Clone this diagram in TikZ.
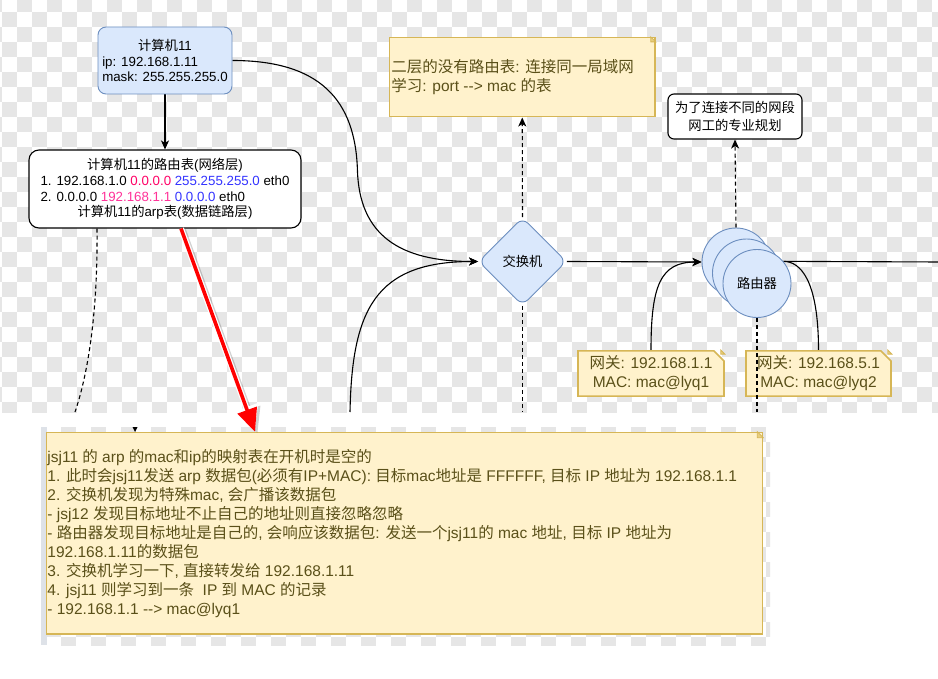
\documentclass[tikz,border=0pt]{standalone}
\usepackage{fontspec}
\setmainfont{Liberation Sans}
\newfontfamily\latfont{Liberation Sans}
\newfontfamily\cjkfont{Noto Sans CJK SC}
\usetikzlibrary{arrows.meta,shapes.geometric,shapes.misc}

% ideographs are set in the CJK family, everything else in Liberation Sans
\XeTeXinterchartokenstate=1
\newXeTeXintercharclass\hanclass
\newcount\glyphcode
\glyphcode="4E00
\loop
  \XeTeXcharclass\glyphcode=\hanclass
  \advance\glyphcode by 1
\ifnum\glyphcode<"A000 \repeat
\glyphcode=33
\loop
  \XeTeXcharclass\glyphcode=0
  \advance\glyphcode by 1
\ifnum\glyphcode<127 \repeat
\XeTeXinterchartoks 0 \hanclass = {\cjkfont}
\XeTeXinterchartoks 4095 \hanclass = {\cjkfont}
\XeTeXinterchartoks \hanclass 0 = {\latfont}
\XeTeXinterchartoks \hanclass 4095 = {\latfont}

\definecolor{boardgray}{RGB}{230,230,230}
\definecolor{stripgray}{RGB}{222,226,232}
\definecolor{blueFill}{HTML}{DAE8FC}
\definecolor{blueLine}{HTML}{6C8EBF}
\definecolor{noteFill}{HTML}{FFF2CC}
\definecolor{noteLine}{HTML}{D6B656}
\definecolor{noteFold}{HTML}{E8CF80}
\definecolor{noteText}{RGB}{90,80,25}
\definecolor{ipPink}{HTML}{FF0066}
\definecolor{gwPink}{HTML}{FF3399}
\definecolor{maskBlue}{HTML}{3333FF}

\pgfdeclarelayer{board}
\pgfdeclarelayer{wires}
\pgfdeclarelayer{front}
\pgfsetlayers{board,wires,main,front}

\newsavebox\maskrow
\newsavebox\routerow

% dog-ear of a note: #1 node name, #2 fold size
\newcommand\foldcorner[2]{%
  \filldraw[draw=noteLine, fill=noteFold, line width=0.8pt]
    (#1.north -| #1.east) ++(-#2,0) -- ++(0,#2) -- ++(#2,0) -- cycle;}

\begin{document}
\sbox\maskrow{\fontsize{13.3}{15.7}\selectfont mask: 255.255.255.0}%
\sbox\routerow{\fontsize{13.3}{15.7}\selectfont 1. 192.168.1.0 \textcolor{ipPink}{0.0.0.0} \textcolor{maskBlue}{255.255.255.0} eth0}%
\begin{tikzpicture}[x=1pt,y=-1pt,
  lbl/.style={font=\fontsize{13.3}{15.7}\selectfont, inner sep=0pt, align=center},
  bluebox/.style={draw=blueLine, fill=blueFill, line width=0.9pt},
  blackbox/.style={draw=black, fill=white, line width=1.1pt},
  notebox/.style={chamfered rectangle, chamfered rectangle corners=north east,
    chamfered rectangle xsep=5pt, chamfered rectangle ysep=5pt,
    draw=noteLine, fill=noteFill, line width=1.6pt, inner sep=0pt},
  notetext/.style={text=noteText, font=\fontsize{15.5}{19}\selectfont, inner sep=0pt},
  wire/.style={draw=black, line width=1.1pt},
  dashwire/.style={wire, dash pattern=on 4pt off 3pt},
  endtip/.style={-{Stealth[length=9pt,width=8pt,inset=2.5pt]}}]
\useasboundingbox (0,0) rectangle (938,679);

% canvas: checkerboard backdrop
\begin{pgfonlayer}{board}
  \fill[white] (0,0) rectangle (938,679);
  \begin{scope}
    \clip (0,0) rectangle (938,412);
    \foreach \j in {0,...,27}{
      \pgfmathsetmacro\xo{17-15*mod(\j,2)}
      \foreach \k in {-1,...,31}
        \fill[boardgray] (\xo+30*\k,-3+15*\j) rectangle ++(15,15);
    }
  \end{scope}
  \begin{scope}
    \clip (46,427) rectangle (770,645);
    \foreach \j in {0,...,14}{
      \pgfmathsetmacro\xo{61-15*mod(\j,2)}
      \foreach \k in {-1,...,25}
        \fill[boardgray] (\xo+30*\k,427+15*\j) rectangle ++(15,15);
    }
  \end{scope}
  \fill[stripgray] (41,427) rectangle (46.5,645);
\end{pgfonlayer}

% host and its tables
\node[bluebox, rounded corners=8pt, minimum width=134pt, minimum height=67pt, lbl] (pc) at (165,60.5)
  {计算机11\\\makebox[\wd\maskrow][l]{ip: 192.168.1.11}\\\usebox\maskrow};
\node[blackbox, rounded corners=10pt, minimum width=272pt, minimum height=78pt, lbl] (rt) at (165,189)
  {计算机11的路由表(网络层)\\\usebox\routerow\\\makebox[\wd\routerow][l]{2. 0.0.0.0 \textcolor{gwPink}{192.168.1.1} \textcolor{maskBlue}{0.0.0.0} eth0}\\计算机11的arp表(数据链路层)};

% switch and its note
\node[bluebox, diamond, rounded corners=8pt, minimum width=88pt, minimum height=88pt, lbl] (sw) at (522.5,261.5) {交换机};
\node[notebox, minimum width=265.5pt, minimum height=79pt] (lay2) at (522.25,77.2) {};
\foldcorner{lay2}{5}
\node[notetext, anchor=west, align=left] (lay2txt) at ([xshift=2.5pt]lay2.west)
  {二层的没有路由表: 连接同一局域网\\学习: port -\kern0pt-> mac 的表};

% router stack
\node[blackbox, rounded corners=6pt, minimum width=134pt, minimum height=45pt, lbl, font=\fontsize{13.3}{17.5}\selectfont] (goal) at (735,116.5)
  {为了连接不同的网段\\网工的专业规划};
\node[bluebox, circle, minimum size=68pt, inner sep=0pt] (r1) at (736,262) {};
\node[bluebox, circle, minimum size=68pt, inner sep=0pt] (r2) at (746.5,273) {};
\node[bluebox, circle, minimum size=68pt, lbl] (r3) at (757,283.5) {路由器};

% gateway notes
\node[notebox, minimum width=146pt, minimum height=45pt, notetext, align=center] (gw1) at (651,373.5)
  {网关: 192.168.1.1\\MAC: mac@lyq1};
\foldcorner{gw1}{4}
\node[notebox, minimum width=145pt, minimum height=45pt, notetext, align=center] (gw2) at (818.5,373.5)
  {网关: 192.168.5.1\\MAC: mac@lyq2};
\foldcorner{gw2}{4}

% ARP walkthrough
\node[notebox, minimum width=716pt, minimum height=201.5pt] (arp) at (404.5,533.25) {};
\foldcorner{arp}{6}
\node[notetext, anchor=west, align=left] (arptxt) at ([xshift=1.5pt]arp.west)
  {jsj11 的 arp 的mac和ip的映射表在开机时是空的\\
   1. 此时会jsj11发送 arp 数据包(必须有IP+MAC): 目标mac地址是 FFFFFF, 目标 IP 地址为 192.168.1.1\\
   2. 交换机发现为特殊mac, 会广播该数据包\\
   - jsj12 发现目标地址不止自己的地址则直接忽略忽略\\
   - 路由器发现目标地址是自己的, 会响应该数据包: 发送一个jsj11的 mac 地址, 目标 IP 地址为\\
   192.168.1.11的数据包\\
   3. 交换机学习一下, 直接转发给 192.168.1.11\\
   4. jsj11 则学习到一条 \ IP 到 MAC 的记录\\
   - 192.168.1.1 -\kern0pt-> mac@lyq1};

% connectors
\coordinate (swfeed) at (350,412);
\coordinate (swdown) at (522.5,412);
\coordinate (wanout) at (940,262);
\coordinate (arpdown) at (75,412);
\coordinate (routerdown) at (757,412);
\begin{pgfonlayer}{wires}
  \draw[wire, endtip] (pc) -- (rt);
  \draw[wire, endtip] (pc.east) .. controls +(88,0) and +(-2,-70) .. ++(125,110)
        .. controls +(2,65) and +(-78,0) .. (sw.west);
  \draw[wire, endtip] (swfeed) .. controls +(2,-102) and +(-103,0) .. (sw.west);
  \draw[dashwire] (sw.south) -- (swdown);
  \draw[dashwire, endtip] (sw.north) -- (lay2.south);
  \draw[wire, endtip] (sw.east) -- (r1.west);
  \draw[wire] (r3.40) -- (wanout);
  \draw[dashwire, endtip] (r1.north) -- (goal.south);
  \draw[wire, endtip] (gw1.north) .. controls +(0,-65) and +(-41,0) .. (r1.west);
  \draw[wire] (gw2.north) .. controls +(0,-70) and +(17,0) .. (r3.40);
  \draw[dashwire] ([xshift=-68pt]rt.south) .. controls +(1,92) and +(11,-32) .. (arpdown);
\end{pgfonlayer}

\begin{pgfonlayer}{front}
  \draw[dashwire] (r3.south) -- (routerdown);
  \coordinate (redfrom) at ([xshift=16pt]rt.south);
  \coordinate (redto) at ([xshift=-149.5pt]arp.north);
  \draw[black, opacity=0.18, line width=5pt, -{Triangle[length=25pt,width=23pt]}]
    ([xshift=2.5pt,yshift=-1.5pt]redfrom) -- ([xshift=2.5pt,yshift=-1.5pt]redto);
  \draw[white, line width=6pt, -{Triangle[length=26pt,width=24pt]}] (redfrom) -- (redto);
  \draw[red, line width=3.6pt, -{Triangle[length=23pt,width=20pt]}] (redfrom) -- (redto);
  \fill (132.5,427) -- (137.5,427) -- (135,432) -- cycle;
\end{pgfonlayer}
\end{tikzpicture}
\end{document}
